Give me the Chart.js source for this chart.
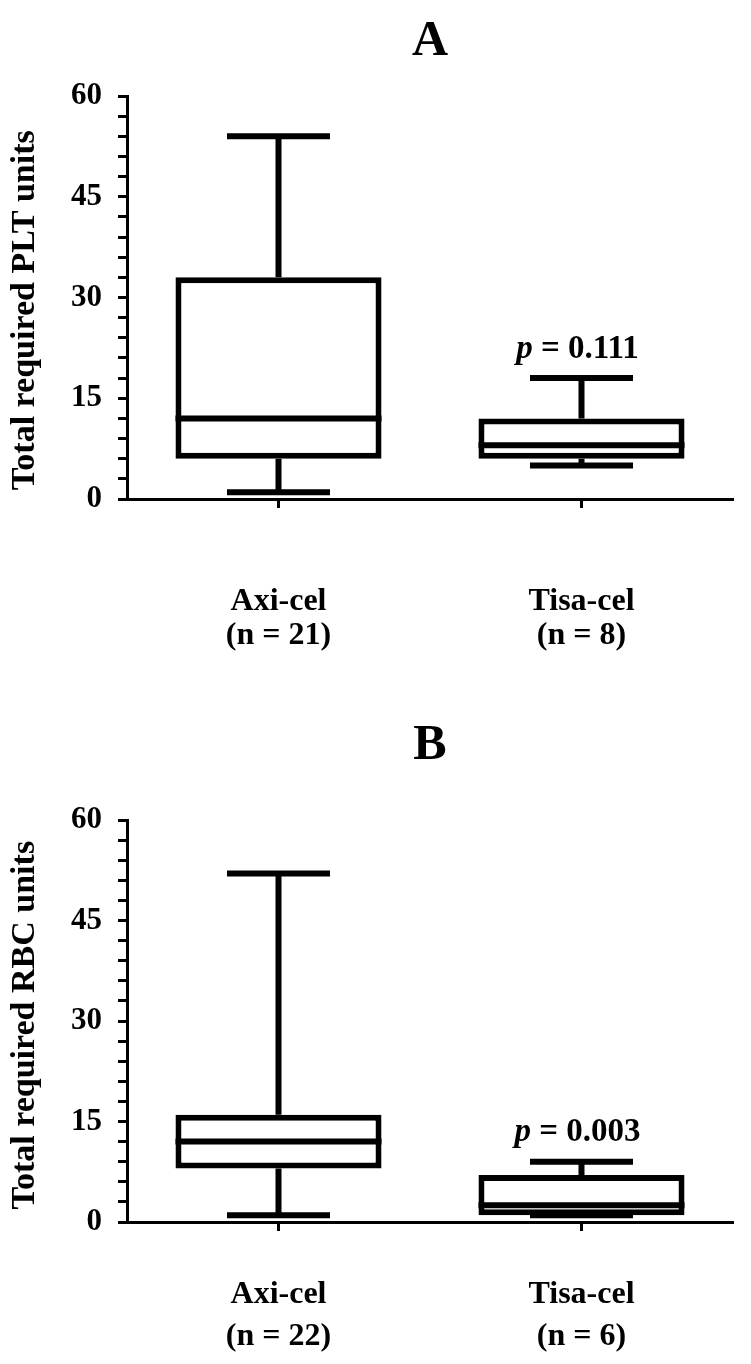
<!DOCTYPE html>
<html>
<head>
<meta charset="utf-8">
<script src="https://cdn.jsdelivr.net/npm/chart.js@4.4.1/dist/chart.umd.min.js"></script>
<style>
  html, body { margin: 0; padding: 0; background: #fff; }
  body { width: 751px; height: 1364px; position: relative; overflow: hidden; }
  .wrap { position: absolute; left: 0; width: 751px; }
  canvas { display: block; }
</style>
</head>
<body>
<div class="wrap" style="top:0px;"><canvas id="chartA" width="751" height="680"></canvas></div>
<div class="wrap" style="top:680px;"><canvas id="chartB" width="751" height="684"></canvas></div>
<script>
// ---- data ----
const categories = ['Axi-cel', 'Tisa-cel'];
const pltN = [21, 8];
const rbcN = [22, 6];

const pltMin    = [1, 5];
const pltQ1     = [6, 6];
const pltMedian = [12, 8];
const pltQ3     = [33, 12];
const pltMax    = [54, 18];

const rbcMin    = [1, 1];
const rbcQ1     = [8, 1];
const rbcMedian = [12, 2.5];
const rbcQ3     = [16, 7];
const rbcMax    = [52, 9];

const yMin = 0, yMax = 60, yMinorStep = 3, yMajorStep = 15;
const pValues = ['0.111', '0.003'];
const panelTitles = ['A', 'B'];
const yTitles = ['Total required PLT units', 'Total required RBC units'];

// ---- styling ----
const FONT = "'Liberation Serif', 'Times New Roman', serif";
const LINE = 6;

const boxPlugin = {
  id: 'boxWhisker',
  afterDatasetsDraw(chart, args, opts) {
    const ctx = chart.ctx;
    const y = chart.scales.y;
    const meta = chart.getDatasetMeta(0);
    ctx.save();
    ctx.strokeStyle = '#000';
    ctx.lineWidth = LINE;
    ctx.lineCap = 'butt';
    meta.data.forEach((bar, i) => {
      const x = bar.x;
      const half = bar.width / 2;
      const cap = bar.width / 4;
      const pMed = y.getPixelForValue(opts.median[i]);
      const pQ1 = y.getPixelForValue(opts.q1[i]);
      const pQ3 = y.getPixelForValue(opts.q3[i]);
      const pMin = y.getPixelForValue(opts.min[i]);
      const pMax = y.getPixelForValue(opts.max[i]);
      ctx.beginPath();
      ctx.moveTo(x - half, pMed); ctx.lineTo(x + half, pMed);
      ctx.moveTo(x, pQ3); ctx.lineTo(x, pMax);
      ctx.moveTo(x - cap, pMax); ctx.lineTo(x + cap, pMax);
      ctx.moveTo(x, pQ1); ctx.lineTo(x, pMin);
      ctx.moveTo(x - cap, pMin); ctx.lineTo(x + cap, pMin);
      ctx.stroke();
    });
    const bar = meta.data[opts.pIndex];
    const ty = y.getPixelForValue(opts.max[opts.pIndex]) - opts.pOffset;
    ctx.fillStyle = '#000';
    ctx.textBaseline = 'middle';
    ctx.textAlign = 'left';
    const fItal = 'italic bold 33px ' + FONT;
    const fBold = 'bold 33px ' + FONT;
    const rest = ' = ' + opts.pText;
    ctx.font = fItal; const w1 = ctx.measureText('p').width;
    ctx.font = fBold; const w2 = ctx.measureText(rest).width;
    const sx = bar.x - 4 - (w1 + w2) / 2;
    ctx.font = fItal; ctx.fillText('p', sx, ty);
    ctx.font = fBold; ctx.fillText(rest, sx + w1, ty);
    ctx.restore();
  }
};

function makeChart(id, o) {
  const labels = categories.map((c, i) => [c, '(n = ' + o.n[i] + ')']);
  return new Chart(document.getElementById(id), {
    type: 'bar',
    data: {
      labels: labels,
      datasets: [{
        data: categories.map((c, i) => [o.q1[i], o.q3[i]]),
        backgroundColor: '#fff',
        borderColor: '#000',
        borderWidth: LINE,
        borderSkipped: false,
        barPercentage: 0.68,
        categoryPercentage: 1.0
      }]
    },
    options: {
      responsive: false,
      animation: false,
      devicePixelRatio: 1,
      layout: { padding: { left: 0, right: 18, top: 0, bottom: 0 } },
      plugins: {
        legend: { display: false },
        tooltip: { enabled: false },
        title: {
          display: true,
          fullSize: false,
          text: o.title,
          color: '#000',
          font: { family: FONT, size: 50, weight: 'bold', lineHeight: 1.2 },
          padding: { top: o.titleTop, bottom: o.titleBottom }
        },
        boxWhisker: {
          min: o.min, q1: o.q1, median: o.median, q3: o.q3, max: o.max,
          pIndex: 1, pText: o.p, pOffset: 29
        }
      },
      scales: {
        x: {
          type: 'category',
          offset: true,
          grid: { display: true, drawOnChartArea: false, drawTicks: true, tickLength: 9, tickWidth: 3, tickColor: '#000', offset: false },
          border: { display: true, color: '#000', width: 3 },
          ticks: {
            color: '#000', autoSkip: false, maxRotation: 0, minRotation: 0,
            padding: o.xPad,
            font: { family: FONT, size: 32, weight: 'bold', lineHeight: o.xLH }
          },
          afterFit: s => { s.height = o.xHeight; }
        },
        y: {
          min: yMin, max: yMax,
          grid: { display: true, drawOnChartArea: false, drawTicks: true, tickLength: 9, tickWidth: 3, tickColor: '#000' },
          border: { display: true, color: '#000', width: 3 },
          ticks: {
            stepSize: yMinorStep, autoSkip: false, color: '#000', padding: 16,
            font: { family: FONT, size: 31, weight: 'bold' },
            callback: v => (v % yMajorStep === 0 ? String(v) : '')
          },
          title: {
            display: true, text: o.yTitle, color: '#000',
            font: { family: FONT, size: 34, weight: 'bold', lineHeight: 1.2 },
            padding: { top: 5, bottom: 0 }
          },
          afterFit: s => { s.width = 127; }
        }
      }
    },
    plugins: [boxPlugin]
  });
}

makeChart('chartA', {
  title: panelTitles[0], yTitle: yTitles[0] + '   ', n: pltN, p: pValues[0],
  min: pltMin, q1: pltQ1, median: pltMedian, q3: pltQ3, max: pltMax,
  titleTop: 12, titleBottom: 24, xHeight: 181, xPad: 76, xLH: 1.08
});
makeChart('chartB', {
  title: panelTitles[1], yTitle: yTitles[1] + ' ', n: rbcN, p: pValues[1],
  min: rbcMin, q1: rbcQ1, median: rbcMedian, q3: rbcQ3, max: rbcMax,
  titleTop: 36, titleBottom: 44, xHeight: 142, xPad: 43, xLH: 1.3
});
</script>
</body>
</html>
